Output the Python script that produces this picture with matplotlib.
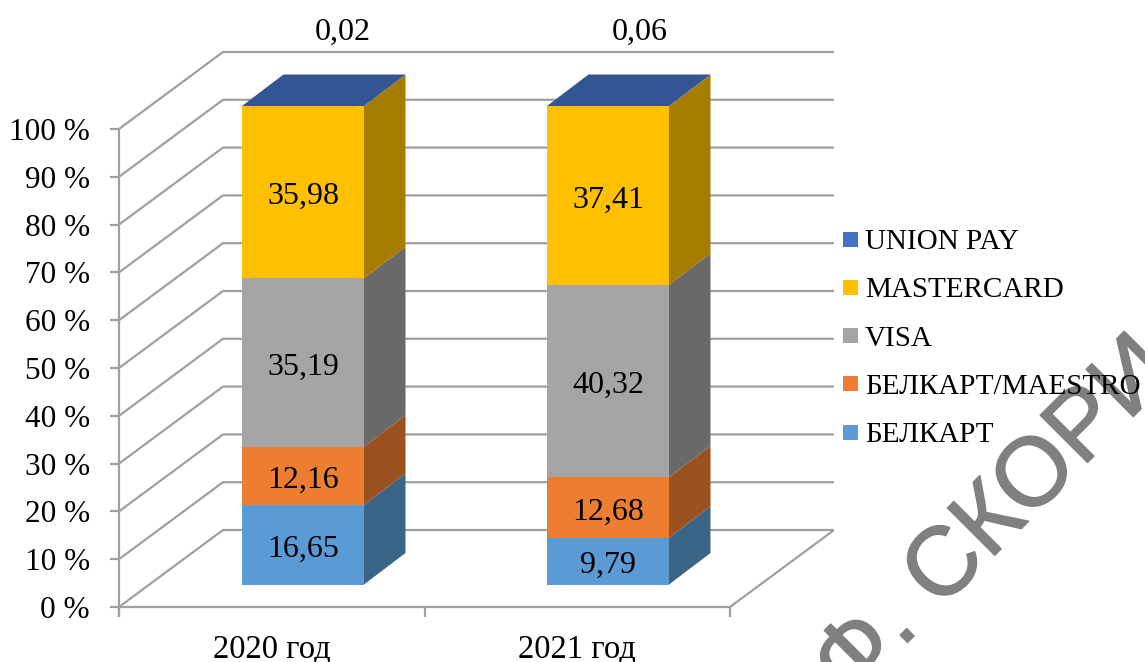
"""Stacked 3D-look bars, drawn by hand in pixel coordinates."""
import matplotlib
matplotlib.use("Agg")
import matplotlib.pyplot as plt
import matplotlib.patheffects as pe
from matplotlib.patches import Polygon, Rectangle

plt.rcParams["font.family"] = ["Liberation Serif", "DejaVu Serif"]

# ── data ──────────────────────────────────────────────
YEARS = ["2020 год", "2021 год"]
SERIES = ["БЕЛКАРТ", "БЕЛКАРТ/MAESTRO", "VISA", "MASTERCARD", "UNION PAY"]
Y2020 = [16.65, 12.16, 35.19, 35.98, 0.02]
Y2021 = [9.79, 12.68, 40.32, 37.41, 0.06]
TICKS = [0, 10, 20, 30, 40, 50, 60, 70, 80, 90, 100]

# ── colours ───────────────────────────────────────────
FRONT = ["#5B9BD5", "#ED7D31", "#A5A5A5", "#FFC000", "#4472C4"]
SIDE = ["#3A6587", "#9C5220", "#696969", "#A67D00", "#2F5597"]
C_TOP = "#335593"
C_GRID = "#A0A0A0"
C_MARK = "#808080"

# ── layout (pixels) ───────────────────────────────────
X0, X1 = 119, 730          # front floor edge
DX, DY = 104, 77           # wall depth
Y_ZERO, PX_PER = 607, 4.78
BAR_X = [242, 547]
TOP_LABEL_X = [343, 640]
BAR_W = 122
BAR_BOTTOM = 584.5
BAR_PX = 4.785
BAR_DX, BAR_DY = 41.5, 31.5


def wall_y(v):
    return Y_ZERO - PX_PER * v


def bar_y(v):
    return BAR_BOTTOM - BAR_PX * v


fig = plt.figure(figsize=(11.45, 6.62), dpi=100)
ax = fig.add_axes([0, 0, 1, 1])
ax.set_xlim(0, 1145)
ax.set_ylim(662, 0)
ax.axis("off")

# grid
line = dict(color=C_GRID, lw=1.6, solid_capstyle="butt", zorder=1)
for t in TICKS:
    y = wall_y(t)
    ax.plot([X0 - 9, X0], [y, y], **line)
    ax.plot([X0, X0 + DX, X1 + DX], [y, y - DY, y - DY], **line)
    ax.text(90, y, f"{t} %", fontsize=22.5, ha="right", va="center_baseline", zorder=6)
ax.plot([X0, X0], [wall_y(0) + 10, wall_y(100)], **line)
ax.plot([X0, X1, X1 + DX], [wall_y(0), wall_y(0), wall_y(0) - DY], **line)
for x in [X0, (X0 + X1) / 2, X1]:
    ax.plot([x, x], [wall_y(0), wall_y(0) + 10], **line)

# bars (100 % stacked, so each column is scaled to its own total)
for bx, lx, year, vals in zip(BAR_X, TOP_LABEL_X, YEARS, [Y2020, Y2021]):
    total = sum(vals)
    base = 0
    for i, v in enumerate(vals):
        share = v / total * 100
        y0, y1 = bar_y(base), bar_y(base + share)
        ax.add_patch(Rectangle((bx, y1), BAR_W, y0 - y1, fc=FRONT[i], ec="none", zorder=3))
        r = bx + BAR_W
        ax.add_patch(Polygon([(r, y0), (r + BAR_DX, y0 - BAR_DY),
                              (r + BAR_DX, y1 - BAR_DY), (r, y1)],
                             fc=SIDE[i], ec="none", zorder=3))
        label = f"{v:.2f}".replace(".", ",")
        if i < 4:
            ax.text(bx + BAR_W / 2, (y0 + y1) / 2 + 1, label,
                    fontsize=23, ha="center", va="center_baseline", zorder=6)
        else:
            ax.text(lx, 29, label, fontsize=23, ha="center", va="center_baseline", zorder=6)
        base += share
    top = bar_y(base)
    ax.add_patch(Polygon([(bx, top), (bx + BAR_DX, top - BAR_DY),
                          (bx + BAR_W + BAR_DX, top - BAR_DY), (bx + BAR_W, top)],
                         fc=C_TOP, ec="none", zorder=3))
    ax.text(bx + 30, 645.5, year, fontsize=23.5, ha="center", va="center_baseline", zorder=6)

# watermark sits under the text
ax.text(849, 701, "Ф. СКОРИ", fontsize=70, family="Liberation Sans", color=C_MARK,
        rotation=45, rotation_mode="anchor", ha="left", va="baseline", zorder=4,
        path_effects=[pe.withStroke(linewidth=1.0, foreground=C_MARK)])

# legend, top entry first
for i, name in enumerate(reversed(SERIES)):
    y = 239 + 48.25 * i
    ax.add_patch(Rectangle((843, y - 7.5), 15, 15, fc=FRONT[4 - i], ec="none", zorder=5))
    ax.text(865, y, name, fontsize=21, ha="left", va="center_baseline", zorder=6)

fig.savefig("out.png", dpi=100, facecolor="white")
plt.close(fig)
